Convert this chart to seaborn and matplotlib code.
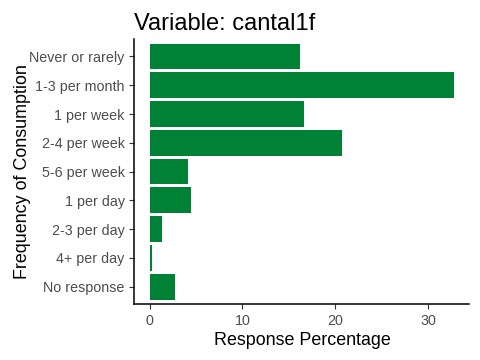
import pandas as pd
import seaborn as sns
import matplotlib.pyplot as plt

categories = ['Never or rarely', '1-3 per month', '1 per week', '2-4 per week',
              '5-6 per week', '1 per day', '2-3 per day', '4+ per day', 'No response']
percent = [16.2, 32.8, 16.65, 20.75, 4.13, 4.45, 1.33, 0.22, 2.73]

df = pd.DataFrame({'Frequency': categories, 'Percent': percent})

sns.set_theme(style='white')
plt.rcParams['font.family'] = ['Liberation Sans', 'DejaVu Sans']

fig = plt.figure(figsize=(4.8, 3.6), dpi=100)
ax = fig.add_axes([0.28, 0.156, 0.698, 0.735])

sns.barplot(data=df, x='Percent', y='Frequency', order=categories,
            color='#008236', saturation=1, width=0.9, linewidth=0,
            edgecolor='none', ax=ax)

ax.set_xlim(-1.64, 34.44)
ax.set_ylim(len(categories) - 0.4, -0.6)
ax.set_xticks([0, 10, 20, 30])
ax.set_xlabel('Response Percentage', fontsize=12.9, color='black', labelpad=3)
ax.set_ylabel('Frequency of Consumption', fontsize=12.9, color='black', labelpad=-1.3)
ax.set_title('Variable: cantal1f', loc='left', fontsize=17, color='black', pad=7)

ax.tick_params(axis='both', labelsize=10.3, colors='#4D4D4D', length=3.5, width=0.8,
               direction='out', bottom=True, left=True)
ax.tick_params(axis='both', color='#333333')

for s in ['top', 'right']:
    ax.spines[s].set_visible(False)
for s in ['left', 'bottom']:
    ax.spines[s].set_color('black')
    ax.spines[s].set_linewidth(1.1)

fig.savefig('out.png', dpi=100)
